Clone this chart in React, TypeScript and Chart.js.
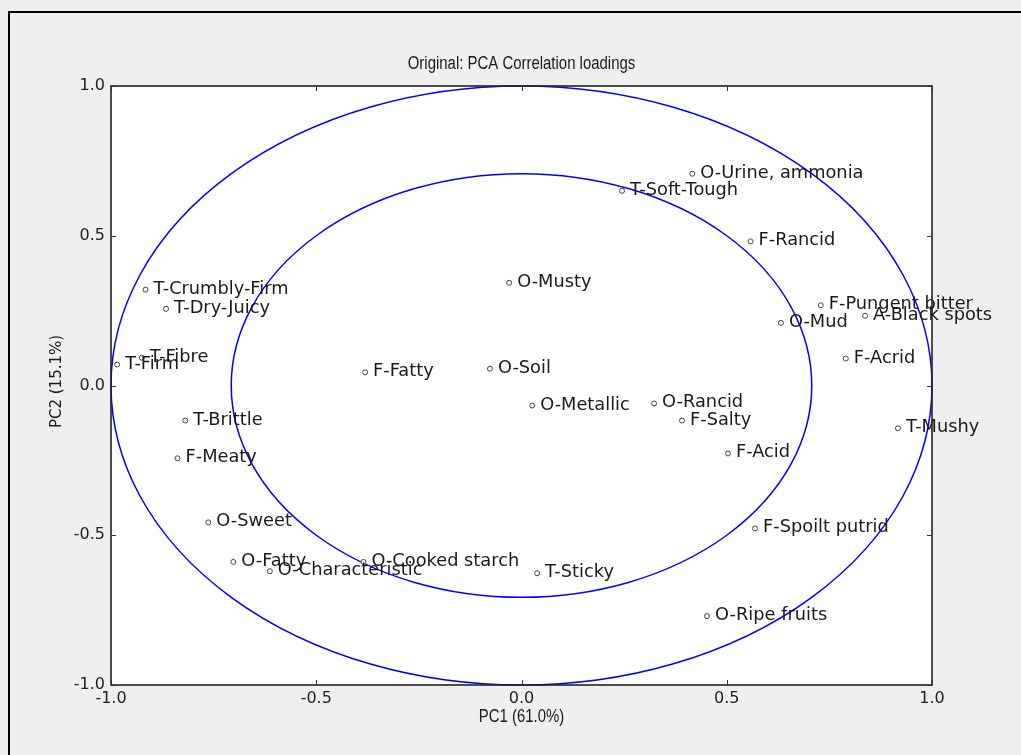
import React, { useEffect, useRef } from 'react';
import { Chart, registerables } from 'chart.js';

Chart.register(...registerables);

const variableNames = [
  'O-Urine, ammonia', 'T-Soft-Tough', 'F-Rancid', 'O-Musty', 'T-Crumbly-Firm', 'T-Dry-Juicy',
  'F-Pungent bitter', 'A-Black spots', 'O-Mud', 'T-Fibre', 'T-Firm', 'F-Acrid',
  'F-Fatty', 'O-Soil', 'O-Metallic', 'O-Rancid', 'F-Salty', 'T-Mushy',
  'T-Brittle', 'F-Meaty', 'F-Acid', 'O-Sweet', 'F-Spoilt putrid', 'O-Fatty',
  'O-Characteristic', 'O-Cooked starch', 'T-Sticky', 'O-Ripe fruits',
];
const pc1Loadings = [
  0.416, 0.245, 0.558, -0.030, -0.916, -0.866,
  0.729, 0.837, 0.632, -0.925, -0.985, 0.790,
  -0.381, -0.077, 0.026, 0.323, 0.391, 0.917,
  -0.819, -0.838, 0.503, -0.763, 0.569, -0.702,
  -0.613, -0.385, 0.038, 0.452,
];
const pc2Loadings = [
  0.707, 0.650, 0.481, 0.343, 0.320, 0.256,
  0.268, 0.233, 0.209, 0.093, 0.070, 0.090,
  0.044, 0.056, -0.067, -0.060, -0.117, -0.143,
  -0.117, -0.243, -0.227, -0.457, -0.477, -0.589,
  -0.620, -0.589, -0.627, -0.770,
];
const xTickValues = [-1, -0.5, 0, 0.5, 1];
const yTickValues = [-1, -0.5, 0, 0.5, 1];
const circleRadii = [1, Math.SQRT1_2];
const titleText = 'Original: PCA Correlation loadings';
const xAxisTitle = 'PC1 (61.0%)';
const yAxisTitle = 'PC2 (15.1%)';

const SANS = '"Liberation Sans", Arial, sans-serif';
const DEJAVU = '"DejaVu Sans", sans-serif';

const decorPlugin = {
  id: 'decor',
  beforeDraw(chart: any) {
    const { ctx, chartArea: a, width, height } = chart;
    ctx.save();
    ctx.fillStyle = '#efefef';
    ctx.fillRect(0, 0, width, height);
    ctx.strokeStyle = '#000';
    ctx.lineWidth = 2;
    ctx.beginPath();
    ctx.moveTo(9, height);
    ctx.lineTo(9, 12);
    ctx.lineTo(width, 12);
    ctx.stroke();
    ctx.fillStyle = '#ffffff';
    ctx.fillRect(a.left, a.top, a.right - a.left, a.bottom - a.top);
    ctx.restore();
  },
  beforeDatasetsDraw(chart: any) {
    const { ctx, chartArea: a, scales } = chart;
    const xs = scales.x, ys = scales.y;
    const cx = xs.getPixelForValue(0), cy = ys.getPixelForValue(0);
    ctx.save();
    ctx.beginPath();
    ctx.rect(a.left - 1, a.top - 1, a.right - a.left + 2, a.bottom - a.top + 2);
    ctx.clip();
    ctx.strokeStyle = '#0000ff';
    ctx.lineWidth = 1.5;
    circleRadii.forEach((r) => {
      const rx = xs.getPixelForValue(r) - cx;
      const ry = cy - ys.getPixelForValue(r);
      ctx.beginPath();
      ctx.ellipse(cx, cy, rx, ry, 0, 0, Math.PI * 2);
      ctx.stroke();
    });
    ctx.restore();
  },
  afterDatasetsDraw(chart: any) {
    const { ctx, chartArea: a, scales } = chart;
    const xs = scales.x, ys = scales.y;
    ctx.save();
    // point labels
    ctx.font = `17.8px ${DEJAVU}`;
    ctx.fillStyle = '#1a1a1a';
    ctx.textAlign = 'left';
    ctx.textBaseline = 'alphabetic';
    variableNames.forEach((name, i) => {
      const px = xs.getPixelForValue(pc1Loadings[i]);
      const py = ys.getPixelForValue(pc2Loadings[i]);
      ctx.fillText(name, px + 8, py + 4);
    });
    // frame
    ctx.strokeStyle = '#222';
    ctx.lineWidth = 1.6;
    ctx.strokeRect(a.left, a.top, a.right - a.left, a.bottom - a.top);
    // inward ticks
    ctx.lineWidth = 1;
    ctx.strokeStyle = '#333';
    ctx.beginPath();
    xTickValues.forEach((v) => {
      const x = Math.round(xs.getPixelForValue(v)) + 0.5;
      ctx.moveTo(x, a.bottom); ctx.lineTo(x, a.bottom - 5);
      ctx.moveTo(x, a.top); ctx.lineTo(x, a.top + 5);
    });
    yTickValues.forEach((v) => {
      const y = Math.round(ys.getPixelForValue(v)) + 0.5;
      ctx.moveTo(a.left, y); ctx.lineTo(a.left + 5, y);
      ctx.moveTo(a.right, y); ctx.lineTo(a.right - 5, y);
    });
    ctx.stroke();
    // titles (condensed sans)
    ctx.fillStyle = '#1a1a1a';
    ctx.textAlign = 'center';
    ctx.textBaseline = 'middle';
    ctx.font = `18px ${SANS}`;
    const midX = (a.left + a.right) / 2;
    ctx.save();
    ctx.translate(midX, 64);
    ctx.scale(0.83, 1);
    ctx.fillText(titleText, 0, 0);
    ctx.restore();
    ctx.save();
    ctx.translate(midX, 717);
    ctx.scale(0.83, 1);
    ctx.fillText(xAxisTitle, 0, 0);
    ctx.restore();
    ctx.font = `15px ${DEJAVU}`;
    ctx.translate(57.5, (a.top + a.bottom) / 2 - 4);
    ctx.rotate(-Math.PI / 2);
    ctx.fillText(yAxisTitle, 0, 0);
    ctx.restore();
  },
};

export default function App() {
  const canvasRef = useRef<HTMLCanvasElement | null>(null);

  useEffect(() => {
    if (!canvasRef.current) return;
    const points = pc1Loadings.map((x, i) => ({ x, y: pc2Loadings[i] }));
    const chart = new Chart(canvasRef.current, {
      type: 'scatter',
      data: {
        datasets: [
          {
            label: 'loadings',
            data: points,
            pointRadius: 2.5,
            pointBorderWidth: 1,
            borderColor: '#444',
            backgroundColor: '#ffffff',
            pointStyle: 'circle',
          },
        ],
      },
      options: {
        responsive: false,
        animation: false,
        devicePixelRatio: 1,
        events: [],
        layout: { padding: { left: 0, top: 86, right: 89, bottom: 0 } },
        plugins: {
          legend: { display: false },
          tooltip: { enabled: false },
          title: { display: false },
        },
        scales: {
          x: {
            type: 'linear',
            position: 'bottom',
            min: -1,
            max: 1,
            afterBuildTicks: (s: any) => {
              s.ticks = xTickValues.map((v) => ({ value: v }));
            },
            afterFit: (s: any) => {
              s.height = 70;
            },
            ticks: {
              autoSkip: false,
              maxRotation: 0,
              padding: 4,
              color: '#222',
              font: { family: 'DejaVu Sans', size: 16 },
              callback: (v: any) => Number(v).toFixed(1),
            },
            grid: { display: false, drawTicks: false },
            border: { display: false },
          },
          y: {
            type: 'linear',
            position: 'left',
            min: -1,
            max: 1,
            afterBuildTicks: (s: any) => {
              s.ticks = yTickValues.map((v) => ({ value: v }));
            },
            afterFit: (s: any) => {
              s.width = 111;
            },
            ticks: {
              autoSkip: false,
              padding: 6,
              color: '#222',
              font: { family: 'DejaVu Sans', size: 16 },
              callback: (v: any) => Number(v).toFixed(1),
            },
            grid: { display: false, drawTicks: false },
            border: { display: false },
          },
        },
      },
      plugins: [decorPlugin],
    });
    return () => chart.destroy();
  }, []);

  return (
    <div style={{ position: 'absolute', left: 0, top: 0, width: 1021, height: 755 }}>
      <canvas ref={canvasRef} width={1021} height={755} style={{ display: 'block' }} />
    </div>
  );
}
